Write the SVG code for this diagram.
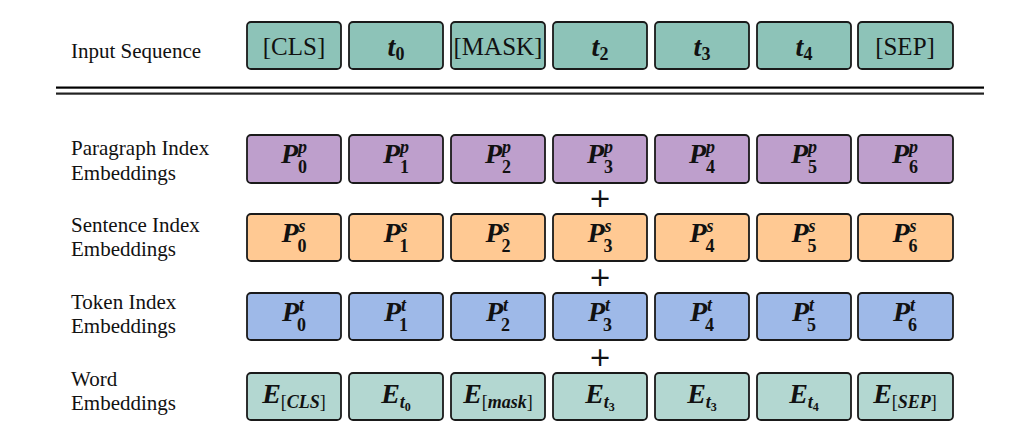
<svg xmlns="http://www.w3.org/2000/svg" width="1032" height="446" viewBox="0 0 1032 446">
<style>
.box{stroke:#1a1a1a;stroke-width:1.8}
.in{fill:#8DC3B8}
.pp{fill:#BE9FCC}
.ps{fill:#FFC993}
.pt{fill:#9EB9E8}
.we{fill:#B3D7D1}
.lbl{font-family:"Liberation Serif",serif;font-size:21px;fill:#111}
.tx{font-family:"Liberation Serif",serif;font-size:25px;fill:#111;text-anchor:middle}
.m{font-family:"Liberation Serif",serif;font-style:italic;font-weight:bold;font-size:28px;fill:#111;text-anchor:middle}
.s{font-size:18px}
.u{font-style:normal}
.n{font-weight:normal;font-style:normal}
.pl{font-family:"DejaVu Sans",sans-serif;font-size:27px;fill:#111;text-anchor:middle}
</style>
<rect width="1032" height="446" fill="#fff"/>
<g id="labels">
<text class="lbl" x="71" y="58">Input Sequence</text>
<text class="lbl" x="71" y="155">Paragraph Index</text>
<text class="lbl" x="71" y="180">Embeddings</text>
<text class="lbl" x="71" y="232">Sentence Index</text>
<text class="lbl" x="71" y="256">Embeddings</text>
<text class="lbl" x="71" y="309">Token Index</text>
<text class="lbl" x="71" y="333">Embeddings</text>
<text class="lbl" x="71" y="386">Word</text>
<text class="lbl" x="71" y="410">Embeddings</text>
</g>
<g id="separator">
<rect x="56" y="86.5" width="928" height="2.2" fill="#000"/>
<rect x="56" y="92.5" width="928" height="2.2" fill="#222"/>
</g>
<g id="input-row">
<g id="in0"><rect class="box in" x="247" y="22" width="94" height="47" rx="4"/><text class="tx" x="294" y="55">[CLS]</text></g>
<g id="in1"><rect class="box in" x="349" y="22" width="94" height="47" rx="4"/><text class="m" x="396" y="56">t<tspan class="s u" dy="4">0</tspan></text></g>
<g id="in2"><rect class="box in" x="451" y="22" width="94" height="47" rx="4"/><text class="tx" x="498" y="55">[MASK]</text></g>
<g id="in3"><rect class="box in" x="553" y="22" width="94" height="47" rx="4"/><text class="m" x="600" y="56">t<tspan class="s u" dy="4">2</tspan></text></g>
<g id="in4"><rect class="box in" x="655" y="22" width="94" height="47" rx="4"/><text class="m" x="702" y="56">t<tspan class="s u" dy="4">3</tspan></text></g>
<g id="in5"><rect class="box in" x="757" y="22" width="94" height="47" rx="4"/><text class="m" x="804" y="56">t<tspan class="s u" dy="4">4</tspan></text></g>
<g id="in6"><rect class="box in" x="858" y="22" width="95" height="47" rx="4"/><text class="tx" x="905" y="55">[SEP]</text></g>
</g>
<g id="paragraph-row">
<g id="pp0"><rect class="box pp" x="247" y="135" width="94" height="48" rx="4"/><text class="m" x="294" y="163">P<tspan class="s" dy="-10">p</tspan><tspan class="s u" dx="-9" dy="20">0</tspan></text></g>
<g id="pp1"><rect class="box pp" x="349" y="135" width="94" height="48" rx="4"/><text class="m" x="396" y="163">P<tspan class="s" dy="-10">p</tspan><tspan class="s u" dx="-9" dy="20">1</tspan></text></g>
<g id="pp2"><rect class="box pp" x="451" y="135" width="94" height="48" rx="4"/><text class="m" x="498" y="163">P<tspan class="s" dy="-10">p</tspan><tspan class="s u" dx="-9" dy="20">2</tspan></text></g>
<g id="pp3"><rect class="box pp" x="553" y="135" width="94" height="48" rx="4"/><text class="m" x="600" y="163">P<tspan class="s" dy="-10">p</tspan><tspan class="s u" dx="-9" dy="20">3</tspan></text></g>
<g id="pp4"><rect class="box pp" x="655" y="135" width="94" height="48" rx="4"/><text class="m" x="702" y="163">P<tspan class="s" dy="-10">p</tspan><tspan class="s u" dx="-9" dy="20">4</tspan></text></g>
<g id="pp5"><rect class="box pp" x="757" y="135" width="94" height="48" rx="4"/><text class="m" x="804" y="163">P<tspan class="s" dy="-10">p</tspan><tspan class="s u" dx="-9" dy="20">5</tspan></text></g>
<g id="pp6"><rect class="box pp" x="858" y="135" width="95" height="48" rx="4"/><text class="m" x="905" y="163">P<tspan class="s" dy="-10">p</tspan><tspan class="s u" dx="-9" dy="20">6</tspan></text></g>
</g>
<g id="sentence-row">
<g id="ps0"><rect class="box ps" x="247" y="214" width="94" height="47" rx="4"/><text class="m" x="294" y="242">P<tspan class="s" dy="-10">s</tspan><tspan class="s u" dx="-8" dy="20">0</tspan></text></g>
<g id="ps1"><rect class="box ps" x="349" y="214" width="94" height="47" rx="4"/><text class="m" x="396" y="242">P<tspan class="s" dy="-10">s</tspan><tspan class="s u" dx="-8" dy="20">1</tspan></text></g>
<g id="ps2"><rect class="box ps" x="451" y="214" width="94" height="47" rx="4"/><text class="m" x="498" y="242">P<tspan class="s" dy="-10">s</tspan><tspan class="s u" dx="-8" dy="20">2</tspan></text></g>
<g id="ps3"><rect class="box ps" x="553" y="214" width="94" height="47" rx="4"/><text class="m" x="600" y="242">P<tspan class="s" dy="-10">s</tspan><tspan class="s u" dx="-8" dy="20">3</tspan></text></g>
<g id="ps4"><rect class="box ps" x="655" y="214" width="94" height="47" rx="4"/><text class="m" x="702" y="242">P<tspan class="s" dy="-10">s</tspan><tspan class="s u" dx="-8" dy="20">4</tspan></text></g>
<g id="ps5"><rect class="box ps" x="757" y="214" width="94" height="47" rx="4"/><text class="m" x="804" y="242">P<tspan class="s" dy="-10">s</tspan><tspan class="s u" dx="-8" dy="20">5</tspan></text></g>
<g id="ps6"><rect class="box ps" x="858" y="214" width="95" height="47" rx="4"/><text class="m" x="905" y="242">P<tspan class="s" dy="-10">s</tspan><tspan class="s u" dx="-8" dy="20">6</tspan></text></g>
</g>
<g id="token-row">
<g id="pt0"><rect class="box pt" x="247" y="293" width="94" height="47" rx="4"/><text class="m" x="294" y="321">P<tspan class="s" dy="-10">t</tspan><tspan class="s u" dx="-7" dy="20">0</tspan></text></g>
<g id="pt1"><rect class="box pt" x="349" y="293" width="94" height="47" rx="4"/><text class="m" x="396" y="321">P<tspan class="s" dy="-10">t</tspan><tspan class="s u" dx="-7" dy="20">1</tspan></text></g>
<g id="pt2"><rect class="box pt" x="451" y="293" width="94" height="47" rx="4"/><text class="m" x="498" y="321">P<tspan class="s" dy="-10">t</tspan><tspan class="s u" dx="-7" dy="20">2</tspan></text></g>
<g id="pt3"><rect class="box pt" x="553" y="293" width="94" height="47" rx="4"/><text class="m" x="600" y="321">P<tspan class="s" dy="-10">t</tspan><tspan class="s u" dx="-7" dy="20">3</tspan></text></g>
<g id="pt4"><rect class="box pt" x="655" y="293" width="94" height="47" rx="4"/><text class="m" x="702" y="321">P<tspan class="s" dy="-10">t</tspan><tspan class="s u" dx="-7" dy="20">4</tspan></text></g>
<g id="pt5"><rect class="box pt" x="757" y="293" width="94" height="47" rx="4"/><text class="m" x="804" y="321">P<tspan class="s" dy="-10">t</tspan><tspan class="s u" dx="-7" dy="20">5</tspan></text></g>
<g id="pt6"><rect class="box pt" x="858" y="293" width="95" height="47" rx="4"/><text class="m" x="905" y="321">P<tspan class="s" dy="-10">t</tspan><tspan class="s u" dx="-7" dy="20">6</tspan></text></g>
</g>
<g id="word-row">
<g id="we0"><rect class="box we" x="247" y="373" width="94" height="47" rx="4"/><text class="m" x="294" y="403">E<tspan class="s" dy="5"><tspan class="n">[</tspan>CLS<tspan class="n">]</tspan></tspan></text></g>
<g id="we1"><rect class="box we" x="349" y="373" width="94" height="47" rx="4"/><text class="m" x="396" y="403">E<tspan class="s" dy="5">t</tspan><tspan class="u" font-size="12" dy="3">0</tspan></text></g>
<g id="we2"><rect class="box we" x="451" y="373" width="94" height="47" rx="4"/><text class="m" x="498" y="403">E<tspan class="s" dy="5"><tspan class="n">[</tspan>mask<tspan class="n">]</tspan></tspan></text></g>
<g id="we3"><rect class="box we" x="553" y="373" width="94" height="47" rx="4"/><text class="m" x="600" y="403">E<tspan class="s" dy="5">t</tspan><tspan class="u" font-size="12" dy="3">3</tspan></text></g>
<g id="we4"><rect class="box we" x="655" y="373" width="94" height="47" rx="4"/><text class="m" x="702" y="403">E<tspan class="s" dy="5">t</tspan><tspan class="u" font-size="12" dy="3">3</tspan></text></g>
<g id="we5"><rect class="box we" x="757" y="373" width="94" height="47" rx="4"/><text class="m" x="804" y="403">E<tspan class="s" dy="5">t</tspan><tspan class="u" font-size="12" dy="3">4</tspan></text></g>
<g id="we6"><rect class="box we" x="858" y="373" width="95" height="47" rx="4"/><text class="m" x="905" y="403">E<tspan class="s" dy="5"><tspan class="n">[</tspan>SEP<tspan class="n">]</tspan></tspan></text></g>
</g>
<g id="connectors">
<text class="pl" x="600" y="207">+</text>
<text class="pl" x="600" y="286">+</text>
<text class="pl" x="600" y="366">+</text>
</g>
</svg>
